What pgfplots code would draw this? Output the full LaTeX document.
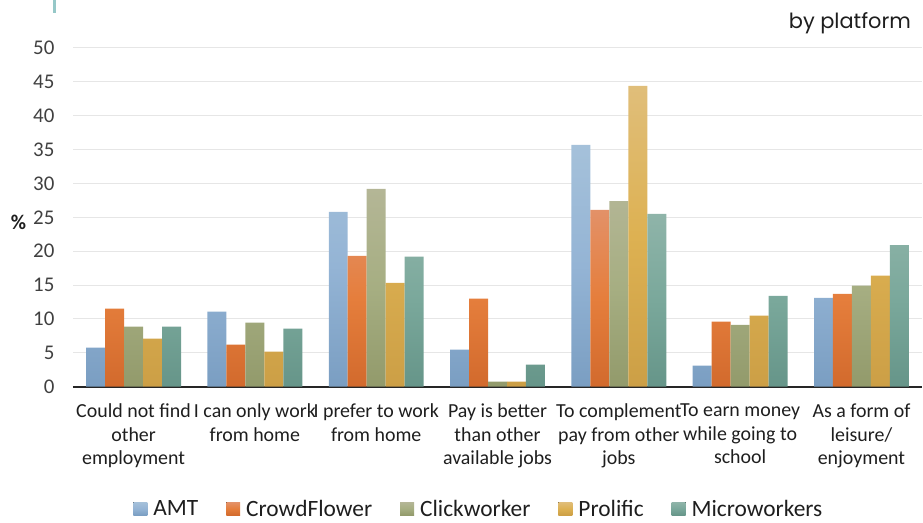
\documentclass[border=0pt]{standalone}
\usepackage{pgfplots}
\pgfplotsset{compat=1.18}
\usepackage{fontspec}
\setmainfont{Carlito}
\newfontfamily\titlefont{Poppins}

\definecolor{amtT}{RGB}{165,193,218}
\definecolor{amtM}{RGB}{148,180,213}
\definecolor{amtB}{RGB}{122,158,194}
\definecolor{cfT}{RGB}{227,145,104}
\definecolor{cfM}{RGB}{229,126,60}
\definecolor{cfB}{RGB}{210,106,45}
\definecolor{cwT}{RGB}{180,182,150}
\definecolor{cwM}{RGB}{166,174,130}
\definecolor{cwB}{RGB}{146,154,107}
\definecolor{prT}{RGB}{224,190,122}
\definecolor{prM}{RGB}{221,177,82}
\definecolor{prB}{RGB}{204,159,70}
\definecolor{mwT}{RGB}{143,180,169}
\definecolor{mwM}{RGB}{122,168,155}
\definecolor{mwB}{RGB}{102,149,137}
\definecolor{gridgray}{RGB}{230,230,230}
\definecolor{axisdark}{RGB}{38,38,38}
\definecolor{ticktext}{RGB}{64,64,64}
\definecolor{labeltext}{RGB}{30,30,30}
\definecolor{tealmark}{RGB}{150,200,200}

\begin{document}
\begin{tikzpicture}
\path (-73bp,-133bp) rectangle (850bp,387bp);
\fill[tealmark] (-20bp,374bp) rectangle (-17bp,387bp);
\begin{axis}[
  at={(0,0)}, anchor=south west,
  scale only axis, width=850bp, height=339bp,
  xmin=-0.5, xmax=6.5, ymin=0, ymax=50,
  clip=false,
  ybar=0pt, bar width=19bp,
  xtick={0,1,2,3,4,5,6},
  xticklabels={
    {Could not find\\other\\employment},
    {I can only work\\from home},
    {I prefer to work\\from home},
    {Pay is better\\than other\\available jobs},
    {To complement\\pay from other\\jobs},
    {To earn money\\while going to\\school},
    {As a form of\\leisure/\\enjoyment}},
  ytick={0,5,...,50},
  ymajorgrids, grid style={draw=gridgray, line width=1bp},
  axis x line*=bottom, axis y line*=left,
  x axis line style={draw=axisdark, line width=1.8bp, -},
  y axis line style={draw=none},
  major tick length=0pt,
  /pgf/number format/assume math mode=true,
  xticklabel style={font=\fontsize{20}{23.5}\selectfont, text=labeltext, align=center, yshift=-14bp},
  yticklabel style={font=\fontsize{21}{24}\selectfont, text=ticktext, xshift=-15bp},
  ylabel={\textbf{\%}},
  ylabel style={rotate=-90, font=\fontsize{21}{24}\selectfont, text=labeltext, at={(axis description cs:-0.064,0.485)}, anchor=center},
  legend style={at={(axis description cs:0.478,-0.362)}, anchor=center, draw=none, fill=none,
    legend columns=-1, font=\fontsize{23.5}{26}\selectfont, text=labeltext,
    /tikz/every even column/.append style={column sep=26bp},
    /tikz/every odd column/.append style={column sep=4bp}},
  legend image code/.code={\fill[#1] (0bp,-6bp) rectangle (14bp,7bp);},
]
\addplot[draw=none, top color=amtT, bottom color=amtB, middle color=amtM] coordinates {(0,5.75) (1,11.06) (2,25.8) (3,5.46) (4,35.7) (5,3.1) (6,13.1)};
\addplot[draw=none, top color=cfT, bottom color=cfB, middle color=cfM] coordinates {(0,11.5) (1,6.2) (2,19.3) (3,13.0) (4,26.1) (5,9.6) (6,13.7)};
\addplot[draw=none, top color=cwT, bottom color=cwB, middle color=cwM] coordinates {(0,8.85) (1,9.44) (2,29.2) (3,0.74) (4,27.4) (5,9.1) (6,14.9)};
\addplot[draw=none, top color=prT, bottom color=prB, middle color=prM] coordinates {(0,7.08) (1,5.16) (2,15.3) (3,0.74) (4,44.4) (5,10.5) (6,16.4)};
\addplot[draw=none, top color=mwT, bottom color=mwB, middle color=mwM] coordinates {(0,8.85) (1,8.55) (2,19.2) (3,3.24) (4,25.5) (5,13.4) (6,20.9)};
\legend{AMT, CrowdFlower, Clickworker, Prolific, Microworkers}
\node[anchor=east, font=\titlefont\fontsize{21}{24}\selectfont, text=labeltext] at (axis description cs:0.991,1.074) {by platform};
\end{axis}
\end{tikzpicture}
\end{document}
